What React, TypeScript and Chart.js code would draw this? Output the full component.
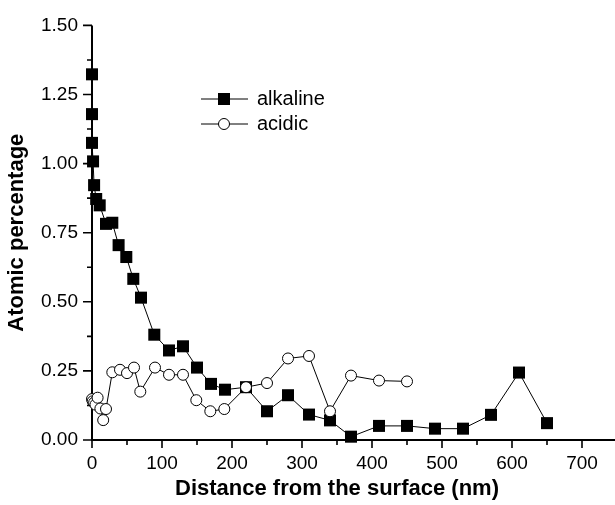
import React, { useEffect, useRef } from "react";
import { Chart, registerables } from "chart.js";

Chart.register(...registerables);

const alkalineX = [0, 0, 0, 1.5, 3, 6, 11, 20, 29, 38, 49, 59, 70, 89, 110, 130, 150, 170, 190, 220, 250, 280, 310, 340, 370, 410, 450, 490, 530, 570, 610, 650];
const alkalineY = [1.323, 1.179, 1.075, 1.008, 0.922, 0.872, 0.849, 0.782, 0.786, 0.705, 0.662, 0.583, 0.515, 0.381, 0.324, 0.339, 0.262, 0.203, 0.182, 0.191, 0.104, 0.162, 0.092, 0.071, 0.012, 0.051, 0.051, 0.041, 0.041, 0.091, 0.244, 0.061];

const acidicX = [0, 1, 3, 5, 8, 12, 16, 20, 29, 40, 50, 60, 69, 90, 110, 130, 149, 169, 189, 220, 250, 280, 310, 340, 370, 410, 450];
const acidicY = [0.148, 0.14, 0.135, 0.128, 0.153, 0.114, 0.072, 0.112, 0.245, 0.254, 0.242, 0.262, 0.175, 0.262, 0.236, 0.236, 0.144, 0.104, 0.112, 0.191, 0.206, 0.295, 0.304, 0.104, 0.233, 0.215, 0.212];

const seriesNames = ["alkaline", "acidic"];
const xTitle = "Distance from the surface (nm)";
const yTitle = "Atomic percentage";

const FONT = "'Liberation Sans', Arial, Helvetica, sans-serif";

const axesPlugin = {
  id: "originAxes",
  beforeDatasetsDraw(chart: any) {
    const { ctx, chartArea } = chart;
    const xs = chart.scales.x;
    const ys = chart.scales.y;
    ctx.save();
    ctx.strokeStyle = "#000";
    ctx.lineWidth = 2;
    ctx.beginPath();
    ctx.moveTo(chartArea.left, chartArea.top);
    ctx.lineTo(chartArea.left, chartArea.bottom);
    ctx.moveTo(chartArea.left - 1, chartArea.bottom);
    ctx.lineTo(chart.width, chartArea.bottom);
    ctx.stroke();
    ctx.lineWidth = 1.6;
    ctx.beginPath();
    for (let v = 0; v <= 750; v += 50) {
      const px = xs.getPixelForValue(v);
      const len = v % 100 === 0 ? 8 : 5;
      ctx.moveTo(px, chartArea.bottom);
      ctx.lineTo(px, chartArea.bottom + len);
    }
    for (let i = 0; i <= 12; i++) {
      const v = i * 0.125;
      const py = ys.getPixelForValue(v);
      const len = i % 2 === 0 ? 9 : 5;
      ctx.moveTo(chartArea.left, py);
      ctx.lineTo(chartArea.left - len, py);
    }
    ctx.stroke();
    ctx.restore();
  },
  afterDatasetsDraw(chart: any) {
    const { ctx } = chart;
    ctx.save();
    // legend
    const items = [
      { y: 99, name: seriesNames[0], type: "rect" },
      { y: 124, name: seriesNames[1], type: "circle" },
    ];
    for (const it of items) {
      ctx.strokeStyle = "#000";
      ctx.lineWidth = 1;
      ctx.beginPath();
      ctx.moveTo(201, it.y);
      ctx.lineTo(248, it.y);
      ctx.stroke();
      if (it.type === "rect") {
        ctx.fillStyle = "#000";
        ctx.fillRect(224 - 6, it.y - 6, 12, 12);
      } else {
        ctx.fillStyle = "#fff";
        ctx.beginPath();
        ctx.arc(224, it.y, 5.5, 0, Math.PI * 2);
        ctx.fill();
        ctx.stroke();
      }
      ctx.fillStyle = "#000";
      ctx.font = `20px ${FONT}`;
      ctx.textBaseline = "middle";
      ctx.textAlign = "left";
      ctx.fillText(it.name, 257, it.y);
    }
    ctx.restore();
  },
};

export default function App() {
  const ref = useRef<HTMLCanvasElement>(null);
  useEffect(() => {
    const canvas = ref.current;
    if (!canvas) return;
    const chart = new Chart(canvas, {
      type: "line",
      data: {
        datasets: [
          {
            label: seriesNames[0],
            data: alkalineX.map((x, i) => ({ x, y: alkalineY[i] })),
            borderColor: "#000",
            borderWidth: 1,
            backgroundColor: "#000",
            pointStyle: "rect",
            pointRadius: 8.5,
            pointBorderWidth: 0,
            pointBackgroundColor: "#000",
            tension: 0,
            clip: false as any,
            order: 1,
          },
          {
            label: seriesNames[1],
            data: acidicX.map((x, i) => ({ x, y: acidicY[i] })),
            borderColor: "#000",
            borderWidth: 1,
            backgroundColor: "#fff",
            pointStyle: "circle",
            pointRadius: 5.5,
            pointBorderWidth: 1,
            pointBackgroundColor: "#fff",
            pointBorderColor: "#000",
            tension: 0,
            clip: false as any,
            order: 0,
          },
        ],
      },
      options: {
        responsive: false,
        animation: false,
        layout: { padding: { left: 0, top: 15, right: 33, bottom: 0 } },
        plugins: { legend: { display: false }, tooltip: { enabled: false } },
        scales: {
          x: {
            type: "linear",
            min: 0,
            max: 700,
            grid: { display: false, drawTicks: false },
            border: { display: false },
            ticks: {
              stepSize: 100,
              padding: 12,
              color: "#000",
              font: { family: FONT, size: 19 },
              maxRotation: 0,
            },
            title: {
              display: true,
              text: xTitle,
              color: "#000",
              font: { family: FONT, size: 22, weight: "bold" },
              padding: { top: 0, bottom: 3 },
            },
            afterFit: (s: any) => {
              s.height = 65;
            },
          },
          y: {
            type: "linear",
            min: 0,
            max: 1.5,
            grid: { display: false, drawTicks: false },
            border: { display: false },
            ticks: {
              stepSize: 0.25,
              padding: 14,
              color: "#000",
              font: { family: FONT, size: 19 },
              callback: (v: any) => Number(v).toFixed(2),
            },
            title: {
              display: true,
              text: yTitle,
              color: "#000",
              font: { family: FONT, size: 22, weight: "bold" },
              padding: { top: 4, bottom: 0 },
            },
            afterFit: (s: any) => {
              s.width = 92;
            },
          },
        },
      },
      plugins: [axesPlugin],
    });
    return () => chart.destroy();
  }, []);
  return (
    <canvas
      ref={ref}
      width={615}
      height={505}
      style={{ position: "fixed", left: 0, top: 0, width: 615, height: 505, background: "#fff" }}
    />
  );
}
